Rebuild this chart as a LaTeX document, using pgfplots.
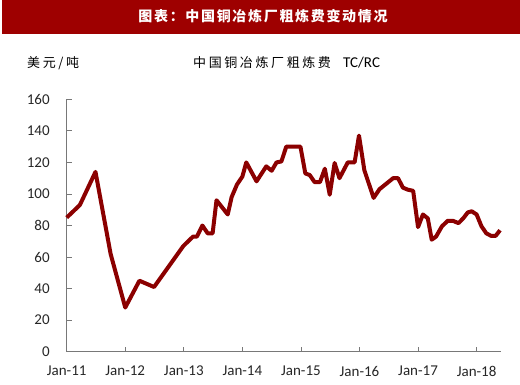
\documentclass[border=0pt]{standalone}
\usepackage{fontspec}
\setmainfont{Carlito}
\newfontfamily\cjk[LetterSpace=20]{Noto Sans CJK SC}
\newfontfamily\cjkt[LetterSpace=12]{Noto Sans CJK SC}
\usepackage{pgfplots}
\pgfplotsset{compat=1.18}
\definecolor{banner}{RGB}{158,0,0}
\definecolor{linered}{RGB}{139,0,0}
\definecolor{axgray}{RGB}{120,120,120}
\begin{document}
\begin{tikzpicture}[x=1pt,y=1pt]
\path[use as bounding box] (0,0) rectangle (520,385);
\fill[banner] (2,351) rectangle (520,385);
\node[white,anchor=center] at (263,369) {\fontsize{14}{14}\selectfont\cjkt\bfseries 图表：中国铜冶炼厂粗炼费变动情况};
\node[anchor=west,inner sep=0] at (27,322) {\fontsize{13}{13}\selectfont\cjk 美元/吨};
\node[anchor=west,inner sep=0] at (193,322) {\fontsize{13}{13}\selectfont\cjk 中国铜冶炼厂粗炼费};
\node[anchor=west,inner sep=0] at (343,322.5) {\fontsize{15}{15}\selectfont TC/RC};
\begin{axis}[
  at={(66.7pt,33.3pt)}, anchor=south west,
  scale only axis, width=434.3pt, height=252.4pt,
  xmin=0, xmax=89, ymin=0, ymax=160,
  axis x line*=bottom, axis y line*=left,
  axis line style={axgray, line width=0.8pt},
  tick align=inside, major tick length=5pt,
  tick style={axgray, line width=0.8pt},
  xtick={0,12,24,36,48,60,72,84},
  xticklabels={Jan-11,Jan-12,Jan-13,Jan-14,Jan-15,Jan-16,Jan-17,Jan-18},
  ytick={0,20,...,160},
  ticklabel style={font=\fontsize{15}{15}\selectfont, text=black!85},
  /pgf/number format/assume math mode=true,
  yticklabel style={xshift=-13.5pt},
  xticklabel style={yshift=-11pt},
  clip=false,
]
\addplot[linered, line width=4pt, line join=round] coordinates {
(0,85) (2.7,93) (5.9,114) (9,62) (12,28) (14.9,45) (17.9,41) (23.9,67)
(25.9,73) (26.7,73) (27.8,80) (28.9,75) (29.9,75) (30.7,96) (33,87)
(33.8,98) (34.9,106) (36,111) (36.8,120) (38.9,108) (40.9,117.5)
(42,114.7) (43,120) (44,120.6) (45,130) (47.9,130) (48.9,113) (49.8,112)
(50.8,107.5) (51.9,107.5) (52.9,116) (53.9,99.5) (54.9,119.6) (55.9,110)
(57.6,120) (59,120) (59.9,137) (61,115) (62.9,97.5) (64.1,103) (66.9,110)
(67.9,110) (68.9,104) (69.9,102.7) (71,102) (72,79) (73,87) (74,84.5)
(74.8,71) (75.7,73) (76.9,79.5) (78.1,83) (79.1,83) (80.3,81.5) (81.3,84.7)
(82.2,88.3) (83,89) (84,87) (85,79.5) (86,75) (87,73.4) (87.9,73.4) (88.8,77)
};
\end{axis}
\end{tikzpicture}
\end{document}
